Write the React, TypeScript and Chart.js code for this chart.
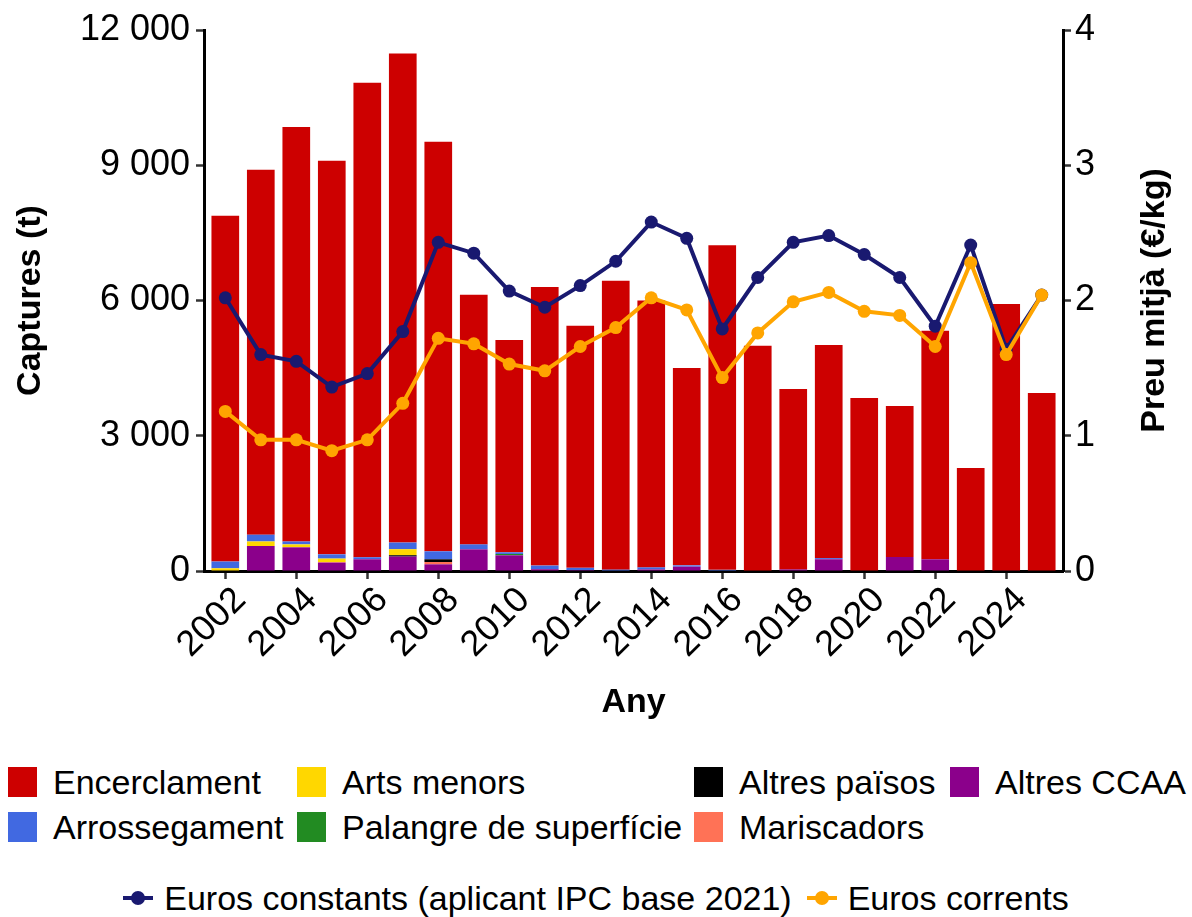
import React, { useEffect, useRef } from 'react';
import { Chart, registerables } from 'chart.js';

Chart.register(...registerables);

const FONT = '"Liberation Sans", Arial, Helvetica, sans-serif';

// ---- Data ----
const years = [2002, 2003, 2004, 2005, 2006, 2007, 2008, 2009, 2010, 2011, 2012, 2013, 2014, 2015, 2016, 2017, 2018, 2019, 2020, 2021, 2022, 2023, 2024, 2025];
const encerclament = [7670, 8095, 9195, 8730, 10525, 10850, 9085, 5535, 4710, 6180, 5370, 6410, 5920, 4380, 7200, 4995, 4000, 4730, 3840, 3350, 5070, 2285, 5915, 3950];
const arrossegament = [150, 150, 65, 95, 45, 148, 177, 110, 37, 80, 50, 30, 45, 30, 25, 0, 0, 25, 0, 0, 0, 0, 0, 0];
const artsMenors = [60, 100, 65, 75, 0, 133, 0, 0, 0, 0, 0, 0, 0, 0, 0, 0, 0, 0, 0, 0, 0, 0, 0, 0];
const palangre = [0, 0, 0, 0, 0, 0, 0, 0, 30, 0, 0, 0, 0, 0, 0, 0, 0, 0, 0, 0, 0, 0, 0, 0];
const altresPaisos = [0, 0, 0, 0, 0, 30, 60, 0, 0, 0, 0, 0, 0, 0, 0, 0, 0, 0, 0, 0, 0, 0, 0, 0];
const mariscadors = [0, 0, 0, 15, 0, 0, 52, 0, 0, 0, 0, 0, 0, 0, 0, 0, 0, 0, 0, 0, 0, 0, 0, 0];
const altresCCAA = [0, 555, 525, 185, 260, 320, 148, 480, 348, 40, 20, 0, 35, 95, 0, 0, 35, 260, 0, 310, 260, 0, 10, 0];
const eurosConstants = [2.02, 1.6, 1.55, 1.36, 1.46, 1.77, 2.43, 2.35, 2.07, 1.95, 2.11, 2.29, 2.58, 2.46, 1.79, 2.17, 2.43, 2.48, 2.34, 2.17, 1.81, 2.41, 1.64, 2.04];
const eurosCorrents = [1.18, 0.97, 0.97, 0.89, 0.97, 1.24, 1.72, 1.68, 1.53, 1.48, 1.66, 1.8, 2.02, 1.93, 1.43, 1.76, 1.99, 2.06, 1.92, 1.89, 1.66, 2.28, 1.6, 2.04];

const xTicks = [2002, 2004, 2006, 2008, 2010, 2012, 2014, 2016, 2018, 2020, 2022, 2024];
const leftTicks = [0, 3000, 6000, 9000, 12000];
const rightTicks = [0, 1, 2, 3, 4];

const xTitle = 'Any';
const yTitle = 'Captures (t)';
const y1Title = 'Preu mitjà (€/kg)';

const barSeries = [
  { label: 'Encerclament', data: encerclament, color: '#CD0000' },
  { label: 'Arrossegament', data: arrossegament, color: '#4169E1' },
  { label: 'Arts menors', data: artsMenors, color: '#FFD700' },
  { label: 'Palangre de superfície', data: palangre, color: '#228B22' },
  { label: 'Altres països', data: altresPaisos, color: '#000000' },
  { label: 'Mariscadors', data: mariscadors, color: '#FF7256' },
  { label: 'Altres CCAA', data: altresCCAA, color: '#8B008B' },
];
const lineSeries = [
  { label: 'Euros constants (aplicant IPC base 2021)', data: eurosConstants, color: '#191970' },
  { label: 'Euros corrents', data: eurosCorrents, color: '#FFA500' },
];

const fmtThousands = (v: number) => String(v).replace(/\B(?=(\d{3})+(?!\d))/g, ' ');
const pts = (arr: number[]) => years.map((x, i) => ({ x, y: arr[i] }));

// legend layout (grid positions)
const legendCols = [8, 297, 694, 950];
const legendRows = [782, 827];

// right-axis title, read bottom-to-top like the left one
const rightTitlePlugin = {
  id: 'rightTitle',
  afterDraw(chart: any) {
    const { ctx, chartArea } = chart;
    ctx.save();
    ctx.font = `bold 34px ${FONT}`;
    ctx.fillStyle = '#000';
    ctx.textAlign = 'center';
    ctx.textBaseline = 'middle';
    ctx.translate(1155, (chartArea.top + chartArea.bottom) / 2);
    ctx.rotate(-Math.PI / 2);
    ctx.fillText(y1Title, 0, 0);
    ctx.restore();
  },
};

export default function App() {
  const ref = useRef<HTMLCanvasElement | null>(null);

  useEffect(() => {
    document.body.style.margin = '0';
    if (!ref.current) return;
    Chart.defaults.font.family = FONT;
    Chart.defaults.color = '#000';

    const bars = [...barSeries].reverse().map((s) => ({
      type: 'bar' as const,
      label: s.label,
      data: pts(s.data),
      backgroundColor: s.color,
      borderWidth: 0,
      categoryPercentage: 1,
      barPercentage: 0.78,
      yAxisID: 'y',
      order: 2,
    }));
    const lines = lineSeries.map((s, i) => ({
      type: 'line' as const,
      label: s.label,
      data: pts(s.data),
      borderColor: s.color,
      backgroundColor: s.color,
      borderWidth: 4,
      pointRadius: 6.5,
      pointBorderWidth: 0,
      pointBackgroundColor: s.color,
      tension: 0,
      yAxisID: 'y1',
      order: 1 - i,
    }));

    const axisGrid = { display: true, drawOnChartArea: false, drawTicks: true, tickLength: 8, tickWidth: 2.5, tickColor: '#333', offset: false };
    const axisBorder = { display: true, color: '#000', width: 3 };
    const tickFont = { size: 36, family: FONT };
    const titleFont = { size: 34, weight: 'bold' as const, family: FONT };

    const chart = new Chart(ref.current, {
      type: 'bar',
      data: { datasets: [...bars, ...lines] as any },
      plugins: [rightTitlePlugin],
      options: {
        responsive: false,
        animation: false,
        layout: { padding: { top: 30, left: 0, right: 0, bottom: 0 } },
        plugins: { legend: { display: false }, tooltip: { enabled: false } },
        scales: {
          x: {
            type: 'linear',
            min: 2001.4,
            max: 2025.6,
            stacked: true,
            offset: false,
            afterBuildTicks: (s: any) => { s.ticks = xTicks.map((v) => ({ value: v })); },
            afterFit: (s: any) => { s.height = 174; },
            ticks: { callback: (v: any) => String(v), font: tickFont, color: '#000', minRotation: 45, maxRotation: 45, padding: 0, labelOffset: 15, autoSkip: false },
            grid: axisGrid,
            border: axisBorder,
            title: { display: true, text: xTitle, font: titleFont, color: '#000', padding: { top: 0, bottom: 22 } },
          },
          y: {
            type: 'linear',
            position: 'left',
            stacked: true,
            min: 0,
            max: 12000,
            afterBuildTicks: (s: any) => { s.ticks = leftTicks.map((v) => ({ value: v })); },
            afterFit: (s: any) => { s.width = 204; },
            ticks: { callback: (v: any) => fmtThousands(Number(v)), font: tickFont, color: '#000', padding: 6 },
            grid: axisGrid,
            border: axisBorder,
            title: { display: true, text: yTitle, font: titleFont, color: '#000', padding: { top: 10, bottom: 0 } },
          },
          y1: {
            type: 'linear',
            position: 'right',
            min: 0,
            max: 4,
            afterBuildTicks: (s: any) => { s.ticks = rightTicks.map((v) => ({ value: v })); },
            afterFit: (s: any) => { s.width = 129; },
            ticks: { callback: (v: any) => String(v), font: tickFont, color: '#000', padding: 4 },
            grid: axisGrid,
            border: axisBorder,
            title: { display: false },
          },
        },
      } as any,
    });
    return () => chart.destroy();
  }, []);

  return (
    <div style={{ position: 'absolute', left: 0, top: 0, width: 1192, height: 917, background: '#fff', fontFamily: FONT, color: '#000', overflow: 'hidden' }}>
      <canvas ref={ref} width={1192} height={745} style={{ position: 'absolute', left: 0, top: 0, width: 1192, height: 745 }} />
      {barSeries.map((s, i) => {
        const col = Math.floor(i / 2);
        const row = i % 2;
        return (
          <div key={s.label} style={{ position: 'absolute', left: legendCols[col], top: legendRows[row] - 20, height: 40, display: 'flex', alignItems: 'center', whiteSpace: 'nowrap' }}>
            <div style={{ width: 29, height: 30, background: s.color, marginRight: 16 }} />
            <span style={{ fontSize: 34, lineHeight: '40px' }}>{s.label}</span>
          </div>
        );
      })}
      <div style={{ position: 'absolute', left: 0, top: 878, width: 1192, height: 40, display: 'flex', justifyContent: 'center', alignItems: 'center', whiteSpace: 'nowrap' }}>
        {lineSeries.map((s, i) => (
          <div key={s.label} style={{ display: 'flex', alignItems: 'center', marginLeft: i === 0 ? 0 : 15 }}>
            <div style={{ position: 'relative', width: 30, height: 14, marginRight: 11 }}>
              <div style={{ position: 'absolute', left: 0, top: 5, width: 30, height: 4, background: s.color }} />
              <div style={{ position: 'absolute', left: 8, top: 0, width: 14, height: 14, borderRadius: 7, background: s.color }} />
            </div>
            <span style={{ fontSize: 34, lineHeight: '40px' }}>{s.label}</span>
          </div>
        ))}
      </div>
    </div>
  );
}
